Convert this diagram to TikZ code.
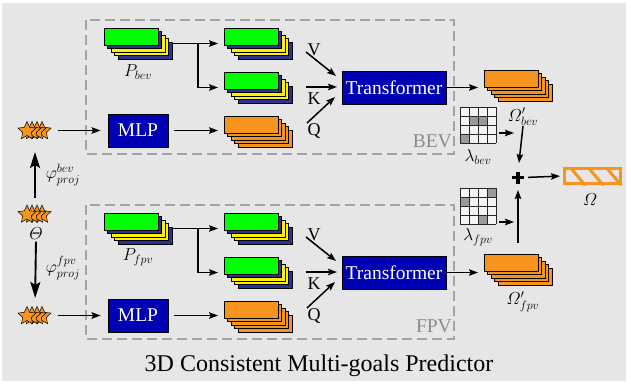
\documentclass[tikz,border=0pt]{standalone}
\usepackage{amsmath}
\usepackage{fontspec}
\setmainfont{Liberation Serif}
\usetikzlibrary{shapes.geometric,arrows.meta,calc}
\definecolor{bg}{HTML}{E6E6E6}
\definecolor{orng}{HTML}{F7941E}
\definecolor{grn}{HTML}{00FF00}
\definecolor{ylw}{HTML}{FFF200}
\definecolor{navy}{HTML}{2E3192}
\definecolor{mlpblue}{HTML}{0000B4}
\definecolor{dashgray}{HTML}{A3A3A3}
\definecolor{gridwhite}{HTML}{F4F4F4}
\definecolor{gridgray}{HTML}{9A9A9A}

\tikzset{
  arr/.style={-{Stealth[length=9pt,width=6.5pt,inset=1.5pt]}, line width=1.5pt},
  bigarr/.style={-{Stealth[length=16pt,width=10pt,inset=3pt]}, line width=1.9pt},
  layer/.style={draw=black, line width=0.8pt, minimum width=54pt, minimum height=17pt, anchor=north west, inner sep=0pt, outer sep=0pt},
  stackbb/.style={minimum width=68pt, minimum height=31pt, anchor=north west, inner sep=0pt, outer sep=0pt},
  blk/.style={draw=black, fill=mlpblue, text=white, font=\fontsize{19.5}{20}\selectfont, inner sep=0pt, line width=0.8pt},
  region/.style={draw=dashgray, dash pattern=on 10pt off 5pt, line width=1.8pt},
  regionlbl/.style={text=dashgray!85!black, font=\fontsize{19.5}{20}\selectfont, inner sep=0pt, anchor=base east},
  lbl/.style={font=\fontsize{18}{20}\selectfont, inner sep=0pt},
  vkq/.style={font=\fontsize{18}{20}\selectfont, inner sep=0pt, anchor=base},
  onestar/.style={star, star points=5, star point ratio=2.1, draw=black, fill=orng, line width=0.5pt, minimum size=19pt, inner sep=0pt},
  starbb/.style={minimum width=34pt, minimum height=17pt, inner sep=0pt, outer sep=0pt},
  gridbb/.style={minimum size=36pt, anchor=north west, inner sep=0pt, outer sep=0pt},
  gridline/.style={draw=black!85, line width=0.9pt},
  plusbb/.style={minimum size=12pt, inner sep=0pt, outer sep=0pt},
  hatchbox/.style={draw=orng, line width=3pt, minimum width=56pt, minimum height=15pt, inner sep=0pt, outer sep=1.5pt},
  titlefont/.style={font=\fontsize{24}{26}\selectfont, inner sep=0pt, anchor=base}
}

\newcommand\mystack[4]{%
  \node[stackbb] (#1) at (#2,#3) {};
  \foreach \clr [count=\i] in {#4} {
    \node[layer, fill=\clr] (#1-\i) at ({#2+(5-\i)*3.5},{#3+(5-\i)*3.5}) {};
  }%
}
\newcommand\mystars[3]{%
  \node[starbb] (#1) at (#2,#3) {};
  \foreach \k in {3,2,1,0} {
    \node[onestar] (#1-\k) at ({#2-8+\k*5},{#3+0.5}) {};
  }%
}
\newcommand\mygrid[4]{%
  \node[gridbb] (#1) at (#2,#3) {};
  \fill[gridwhite] (#2,#3) rectangle ++(36,36);
  \foreach \cc/\rr in {#4} { \fill[gridgray] ({#2+\cc*9},{#3+\rr*9}) rectangle ++(9,9); }
  \foreach \t in {0,9,18,27,36} {
    \draw[gridline] ({#2+\t},#3) -- ++(0,36);
    \draw[gridline] (#2,{#3+\t}) -- ++(36,0);
  }%
}
\newcommand\mymodule[4]{%
\begin{scope}[shift={(0,#2)}]
  \draw[region] (86,20) rectangle (454,154);
  \node[regionlbl] (#1-reg) at (452,147) {#3};
  \mystack{#1-p}{104}{28}{navy,ylw,ylw,navy,grn}
  \node[lbl] (#1-plbl) at (138,72) {$P_{#4}$};
  \mystack{#1-ga}{224}{28}{navy,ylw,ylw,navy,grn}
  \mystack{#1-gb}{224}{72}{navy,ylw,ylw,navy,grn}
  \mystack{#1-o}{224}{116}{orng,orng,orng,orng,orng}
  \node[blk, minimum width=60pt, minimum height=33pt] (#1-mlp) at (138,130.5) {MLP};
  \node[blk, minimum width=104pt, minimum height=33pt] (#1-tr) at (394,87.5) {Transformer};
  \mystars{#1-s}{35}{130.5}
  \node[vkq] (#1-V) at (314,55) {V};
  \node[vkq] (#1-K) at (314,104) {K};
  \node[vkq] (#1-Q) at (314,135) {Q};
  \coordinate (#1-v0) at (306,52); \coordinate (#1-v1) at (336,76);
  \coordinate (#1-k0) at (306,87); \coordinate (#1-k1) at (337,87);
  \coordinate (#1-q0) at (307,123); \coordinate (#1-q1) at (335,97);
  \draw[arr] (#1-v0) -- (#1-v1);
  \draw[arr] (#1-k0) -- (#1-k1);
  \draw[arr] (#1-q0) -- (#1-q1);
  \draw[arr, shorten <=6pt, shorten >=7pt] (#1-s.east) -- (#1-mlp.west);
  \draw[arr, shorten <=6pt, shorten >=6pt] (#1-mlp.east) -- (#1-mlp.east -| #1-o.west);
  \draw[arr, shorten <=1pt, shorten >=6pt] (#1-p.east) -- (#1-ga.west);
  \coordinate (#1-br) at ($(#1-p.east)!0.5!(#1-ga.west)$);
  \draw[arr, shorten >=6pt] (#1-br) |- (#1-gb.west);
\end{scope}%
}

\begin{document}
\begin{tikzpicture}[x=1pt,y=-1pt]
  \useasboundingbox (0,0) rectangle (631,386);
  \fill[bg] (2,3) rectangle (626,381);

  \mymodule{b}{0}{BEV}{bev}
  \mymodule{f}{185}{FPV}{fpv}

  % output stacks
  \mystack{omb}{484}{70}{orng,orng,orng,orng,orng}
  \mystack{omf}{484}{254}{orng,orng,orng,orng,orng}
  \node[lbl] (omblbl) at (523,117) {$\varOmega'_{bev}$};
  \node[lbl] (omflbl) at (523,302) {$\varOmega'_{fpv}$};

  % weight grids
  \mygrid{lgb}{460}{107}{1/1,2/1,0/3}
  \mygrid{lgf}{460}{188}{3/0,0/1,2/3}
  \node[lbl] (lgblbl) at (478,157) {$\lambda_{bev}$};
  \node[lbl] (lgflbl) at (478,237) {$\lambda_{fpv}$};
  \coordinate (gb0) at (499,133); \coordinate (gb1) at (514,133);
  \coordinate (gf0) at (499,222); \coordinate (gf1) at (514,222);
  \draw[arr] (gb0) -- (gb1);
  \draw[arr] (gf0) -- (gf1);

  % plus
  \node[plusbb] (plus) at (518,177.5) {};
  \draw[line width=3.8pt] (plus.north) -- (plus.south) (plus.west) -- (plus.east);

  % result
  \node[hatchbox] (om) at (592.5,176) {};
  \begin{scope}
    \clip (om.south west) rectangle (om.north east);
    \foreach \s in {7,25,43} {
      \draw[orng, line width=3pt] ($(om.north west)+(\s-1.5,-1.5)$) -- ++(17,20);
    }
  \end{scope}
  \node[lbl] (omlbl) at (590,200) {$\varOmega$};

  % transformer outputs
  \draw[arr, shorten >=6pt] (b-tr.east) -- (b-tr.east -| omb.west);
  \draw[arr, shorten >=6pt] (f-tr.east) -- (f-tr.east -| omf.west);
  \draw[arr, shorten <=0pt, shorten >=8.5pt] (omblbl.south) -- (plus.north);
  \coordinate (upst) at (518,243);
  \draw[arr, shorten >=6.5pt] (upst) -- (plus.south);
  \draw[arr, shorten <=4pt, shorten >=3pt] (plus.east) -- (om.west);

  % theta and projections
  \mystars{th}{35}{214}
  \node[lbl] (theta) at (36,233.5) {$\varTheta$};
  \draw[bigarr, shorten <=8pt, shorten >=13pt] (th.north) -- (b-s.south);
  \draw[bigarr, shorten <=2pt, shorten >=9pt] (theta.south) -- (f-s.north);
  \node[lbl] (phib) at (63,175) {$\varphi^{bev}_{proj}$};
  \node[lbl] (phif) at (63,268) {$\varphi^{fpv}_{proj}$};

  \node[titlefont] (title) at (319,371) {3D Consistent Multi-goals Predictor};
\end{tikzpicture}
\end{document}
